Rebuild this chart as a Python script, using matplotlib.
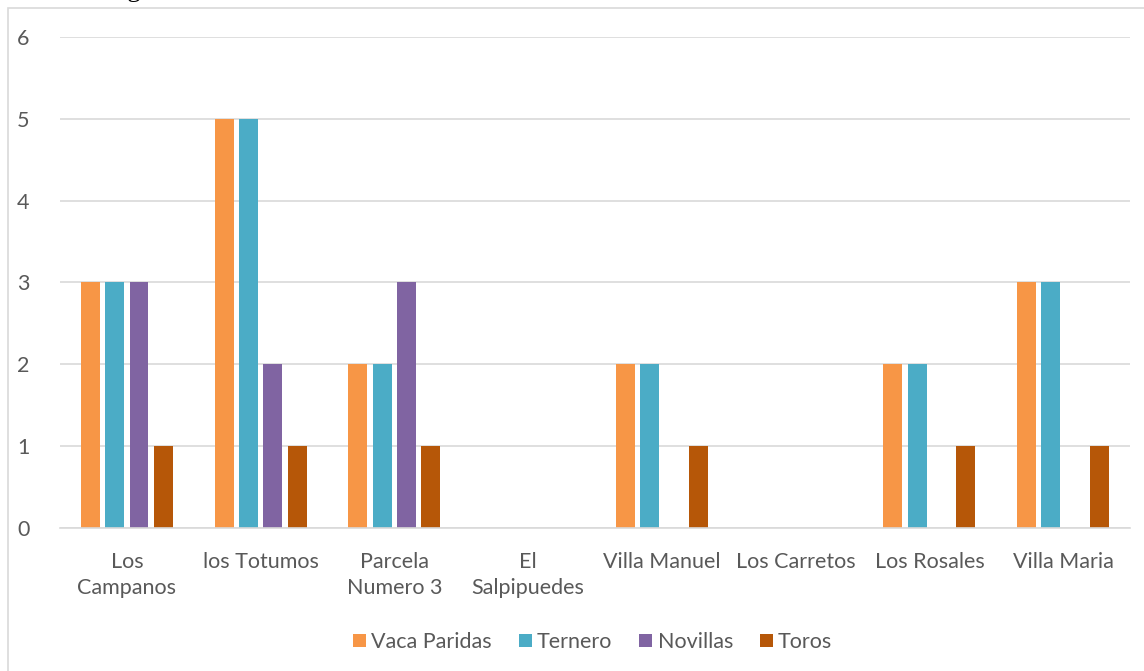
import matplotlib.pyplot as plt
import numpy as np
from matplotlib.patches import Rectangle

# data
fincas = ["Los\nCampanos", "los Totumos", "Parcela\nNumero 3", "El\nSalpipuedes",
          "Villa Manuel", "Los Carretos", "Los Rosales", "Villa Maria"]
vaca_paridas = [3, 5, 2, 0, 2, 0, 2, 3]
ternero = [3, 5, 2, 0, 2, 0, 2, 3]
novillas = [3, 2, 3, 0, 0, 0, 0, 0]
toros = [1, 1, 1, 0, 1, 0, 1, 1]

series = [("Vaca Paridas", vaca_paridas, "#F79646"),
          ("Ternero", ternero, "#4BACC6"),
          ("Novillas", novillas, "#8064A2"),
          ("Toros", toros, "#B65708")]

plt.rcParams['font.family'] = ['Lato', 'DejaVu Sans']
txt = "#595959"

fig = plt.figure(figsize=(11.44, 6.71), dpi=100)
ax = fig.add_axes([0.0524, 0.2131, 0.9354, 0.7318])

x = np.arange(len(fincas))
step = 0.182
width = 0.142
for i, (name, vals, col) in enumerate(series):
    ax.bar(x + (i - 1.5) * step, vals, width, color=col, label=name)

ax.set_xlim(-0.5, len(fincas) - 0.5)
ax.set_ylim(0, 6)
ax.set_yticks(range(0, 7))
ax.set_xticks(x)
ax.set_xticklabels(fincas, fontsize=15.5, color=txt, linespacing=1.4)
ax.tick_params(axis='y', labelsize=15.5, colors=txt, length=0, pad=22)
ax.tick_params(axis='x', length=0, pad=17)
ax.yaxis.grid(True, color="#d9d9d9", linewidth=1.2)
ax.set_axisbelow(True)
for s in ["top", "right", "left"]:
    ax.spines[s].set_visible(False)
ax.spines["bottom"].set_color("#d9d9d9")
ax.spines["bottom"].set_linewidth(1.2)

leg = fig.legend(loc="center", bbox_to_anchor=(0.518, 0.043), ncol=4, frameon=False,
                 fontsize=15.5, handlelength=0.6, handleheight=0.6, handletextpad=0.25,
                 columnspacing=1.25)
for t in leg.get_texts():
    t.set_color(txt)

# chart border
fig.patches.append(Rectangle((8 / 1144, -0.01), 1.0, 1 - 8 / 671 + 0.01,
                             transform=fig.transFigure, fill=False,
                             edgecolor="#d9d9d9", linewidth=1.2))

# caption cut off at the top of the image (as in the reference)
fig.text(0.0, 1 + 3 / 671, "Gráfica  Magnitud de la cantidad de bovinos.",
         family="Liberation Serif", fontsize=19, va="baseline", ha="left", color="black")

fig.savefig("out.png", dpi=100)
